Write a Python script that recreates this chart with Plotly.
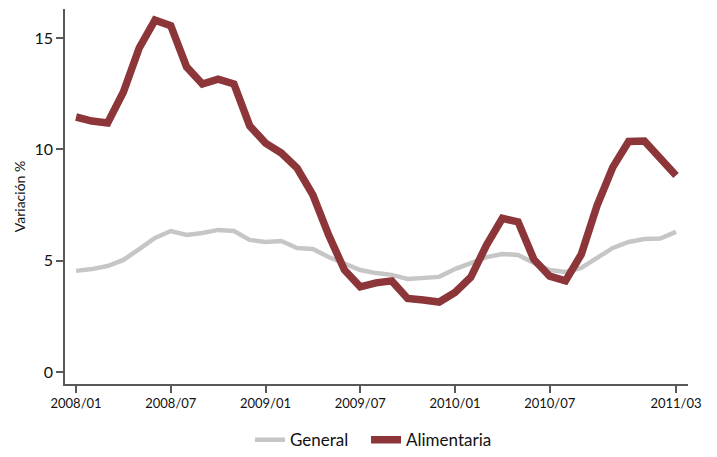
import plotly.graph_objects as go

months = [f"{y}/{m:02d}" for y in (2008, 2009, 2010, 2011) for m in range(1, 13)][:39]

general = [4.54, 4.62, 4.76, 5.03, 5.52, 6.02, 6.33, 6.15, 6.24, 6.38, 6.33, 5.93,
           5.84, 5.88, 5.57, 5.52, 5.16, 4.85, 4.58, 4.44, 4.36, 4.18, 4.22, 4.27,
           4.62, 4.9, 5.16, 5.3, 5.25, 4.9, 4.58, 4.49, 4.67, 5.12, 5.57, 5.84,
           5.97, 5.99, 6.29]

alimentaria = [11.45, 11.27, 11.18, 12.57, 14.55, 15.8, 15.55, 13.7, 12.93, 13.15, 12.93, 11.05,
               10.28, 9.83, 9.16, 7.95, 6.15, 4.58, 3.82, 4.0, 4.09, 3.3, 3.23, 3.14,
               3.57, 4.25, 5.7, 6.9, 6.74, 5.05, 4.3, 4.09, 5.28, 7.47, 9.2, 10.35,
               10.37, 9.6, 8.82]

tick_labels = ["2008/01", "2008/07", "2009/01", "2009/07", "2010/01", "2010/07", "2011/03"]

idx = list(range(len(months)))
tickvals = [months.index(t) for t in tick_labels]

fig = go.Figure()
fig.add_trace(go.Scatter(x=idx, y=general, mode="lines", name="General",
                         line=dict(color="#C6C6C6", width=4.5), legend="legend"))
fig.add_trace(go.Scatter(x=idx, y=alimentaria, mode="lines", name="Alimentaria",
                         line=dict(color="#8C363A", width=7.5), legend="legend2"))

axis_color = "#595959"
leg_common = dict(orientation="h", xanchor="left", y=-0.102, yanchor="top",
                  font=dict(size=17), bgcolor="rgba(0,0,0,0)")
# the page body has an 8px margin, so the figure is drawn 8px smaller
fig.update_layout(
    width=709, height=449,
    margin=dict(l=57, r=29, t=1, b=73, autoexpand=False),
    plot_bgcolor="white", paper_bgcolor="white",
    font=dict(family="Lato, Open Sans, sans-serif", color="#111111"),
    showlegend=True,
    legend=dict(x=0.297, **leg_common),
    legend2=dict(x=0.4832, **leg_common),
    xaxis=dict(range=[-0.7, 38.76], tickvals=tickvals, ticktext=tick_labels,
               showgrid=False, zeroline=False, showline=True, linecolor=axis_color,
               linewidth=1.5, ticks="outside", ticklen=7, tickcolor=axis_color,
               tickwidth=1.5, tickfont=dict(size=13), automargin=False),
    yaxis=dict(range=[-0.54, 16.3], tickvals=[0, 5, 10, 15],
               showgrid=False, zeroline=False, showline=True, linecolor=axis_color,
               linewidth=1.5, ticks="outside", ticklen=7, tickcolor=axis_color,
               tickwidth=1.5, tickfont=dict(size=16), automargin=False,
               title=dict(text="Variación %", font=dict(size=14), standoff=6)),
)

fig.write_html("out.html")
